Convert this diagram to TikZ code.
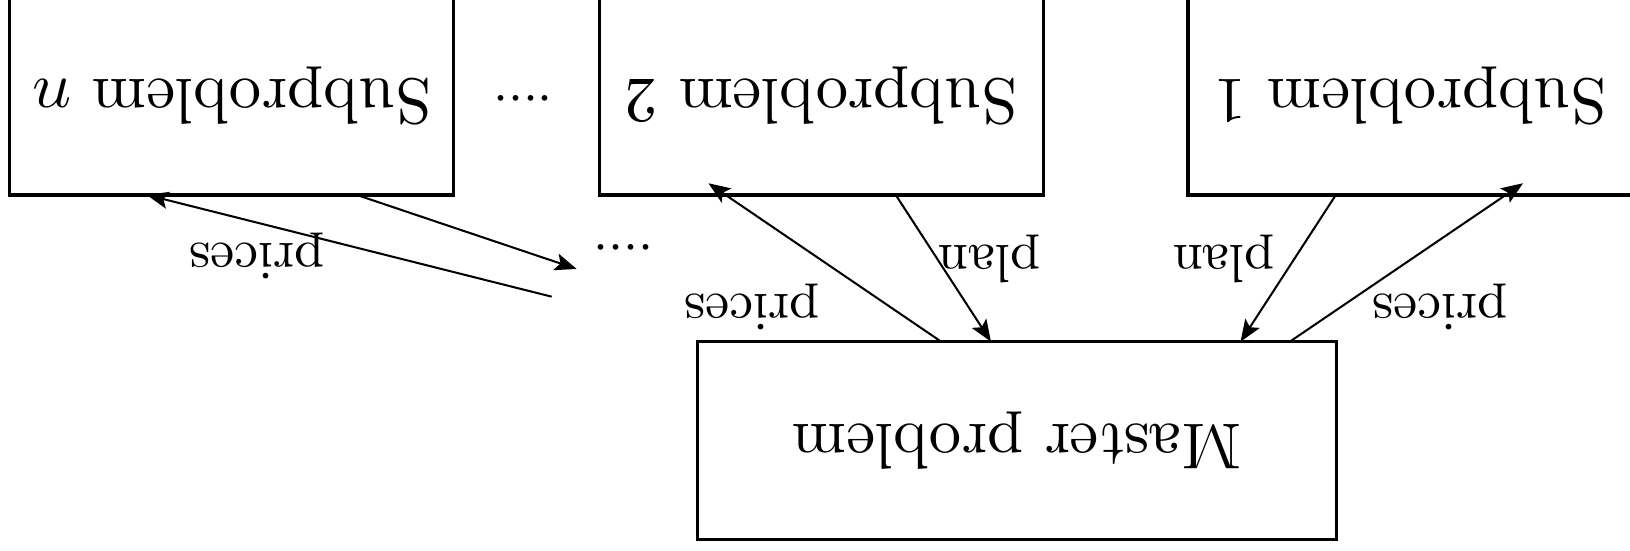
\documentclass[tikz,border=0pt]{standalone}
\usepackage{amsmath, amssymb}
\usepackage{tikz}
\usetikzlibrary{shapes}
\usetikzlibrary{arrows.meta}
\usetikzlibrary{calc}
\tikzstyle{maitre}=[rectangle,draw,line width=1.1pt,outer sep=0pt,scale=2.074,
minimum width=3.472cm,minimum height=1.075cm]
\tikzstyle{sousprob}=[rectangle,draw,line width=1.1pt,outer sep=0pt,scale=2.074,
minimum width=2.411cm,minimum height=1.075cm]
\tikzstyle{etiq}=[scale=1.728,inner sep=0pt]
\tikzstyle{fleche}=[-{Stealth[length=7pt,width=5.5pt,inset=1.5pt]},line width=0.65pt]

\begin{document}
\begin{tikzpicture}[rotate=180,transform shape]
\useasboundingbox (0,0) rectangle (18.356,6.205);
\node[maitre] (m) at (6.903,4.962) {Master problem};
\node[sousprob] (s1) at (2.477,1.08) {Subproblem 1};
\node[sousprob] (s2) at (9.107,1.08) {Subproblem 2};
\node[sousprob] (sn) at (15.747,1.08) {Subproblem $n$};
\node[etiq] (pts1) at (12.466,1.107) {....};
\node[etiq] (pts2) at (11.329,2.782) {....};
\coordinate (finplan) at (11.861,3.029);
\coordinate (debprix) at (12.143,3.341);
%Etiquettes
\node[etiq] (plan1) at (4.572,2.917) {plan};
\node[etiq] (plan2) at (7.218,2.917) {plan};
\node[etiq] (prix1) at (2.140,3.457) {prices};
\node[etiq] (prix2) at (9.887,3.457) {prices};
\node[etiq] (prixn) at (15.462,2.883) {prices};
%Placement des fleches
\draw[fleche] ($(s1.north)+(0.835,0)$) -- ($(m.south)+(-2.518,0)$);
\draw[fleche] ($(m.south)+(-3.073,0)$) -- ($(s1.north)+(-1.272,-0.131)$);
\draw[fleche] ($(s2.north)+(-0.838,0)$) -- ($(m.south)+(0.293,0)$);
\draw[fleche] ($(m.south)+(0.854,0)$) -- ($(s2.north)+(1.271,-0.131)$);
\draw[fleche] ($(sn.north)+(-1.408,0)$) -- (finplan);
\draw[fleche] (debprix) -- ($(sn.north)+(0.957,0)$);
\end{tikzpicture}
\end{document}
